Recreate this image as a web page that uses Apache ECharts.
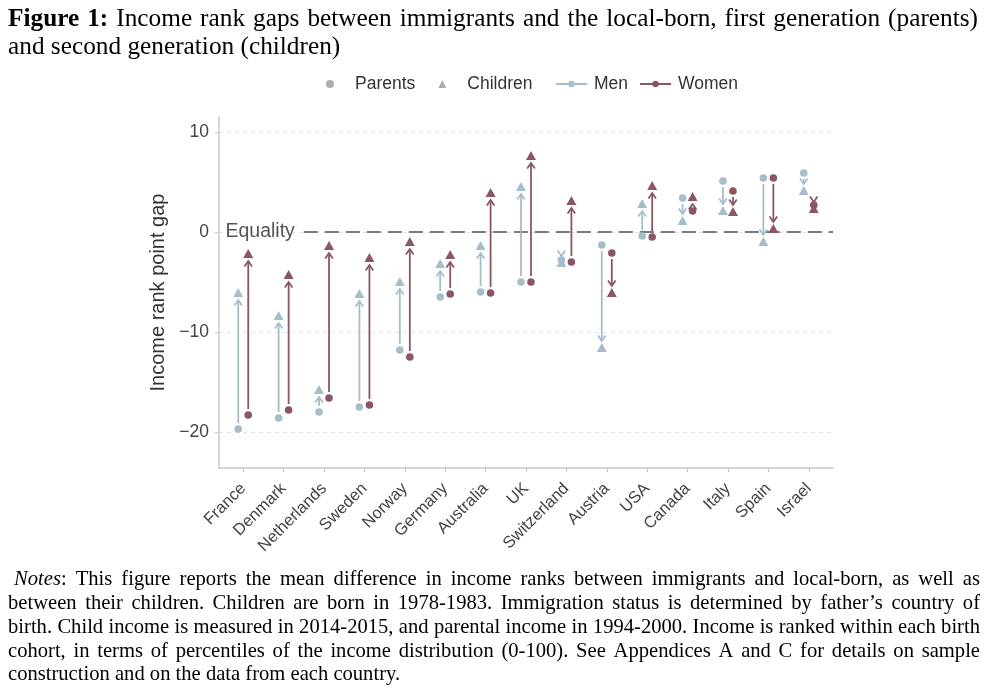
<!DOCTYPE html>
<html>
<head>
<meta charset="utf-8">
<script src="https://cdn.jsdelivr.net/npm/echarts@6/dist/echarts.min.js"></script>
<style>
html,body{margin:0;padding:0;background:#fff;}
#chart{width:1000px;height:692px;}
</style>
</head>
<body>
<div id="chart"></div>
<script>
const categories = ['France','Denmark','Netherlands','Sweden','Norway','Germany','Australia','UK','Switzerland','Austria','USA','Canada','Italy','Spain','Israel'];
const menParents    = [-19.7,-18.6,-18.0,-17.5,-11.8,-6.5,-6.0,-5.0,-2.8,-1.3,-0.4,3.4,5.1,5.4,5.9];
const menChildren   = [-6.1,-8.4,-15.8,-6.2,-5.0,-3.2,-1.4,4.5,-3.1,-11.6,2.8,1.1,2.1,-1.0,4.1];
const womenParents  = [-18.3,-17.8,-16.6,-17.3,-12.5,-6.2,-6.1,-5.0,-3.0,-2.1,-0.5,2.1,4.1,5.4,2.7];
const womenChildren = [-2.2,-4.3,-1.4,-2.6,-1.0,-2.3,3.9,7.6,3.1,-6.1,4.6,3.5,2.0,0.3,2.3];
const yTicks = [-20,-10,0,10];
const xTicks = categories.map((c,i)=>i);

const titleLines = [
  'Figure 1: Income rank gaps between immigrants and the local-born, first generation (parents)',
  'and second generation (children)'
];
const noteLines = [
  'Notes: This figure reports the mean difference in income ranks between immigrants and local-born, as well as',
  'between their children. Children are born in 1978-1983. Immigration status is determined by father\u2019s country of',
  'birth. Child income is measured in 2014-2015, and parental income in 1994-2000. Income is ranked within each birth',
  'cohort, in terms of percentiles of the income distribution (0-100). See Appendices A and C for details on sample',
  'construction and on the data from each country.'
];

const MEN = '#a6bdcc';
const WOMEN = '#8b5565';
const SANS = '"Liberation Sans", Arial, sans-serif';
const SERIF_NAME = 'Liberation Serif';
const SERIF = '"Liberation Serif", "Times New Roman", serif';

// ---- text justification helpers (layout only) ----
const mctx = document.createElement('canvas').getContext('2d');
function measure(t, size, weight, style) {
  mctx.font = (style || 'normal') + ' ' + (weight || 'normal') + ' ' + size + 'px "' + SERIF_NAME + '"';
  return mctx.measureText(t).width;
}
function justifiedRich(words, size, width, justify, richMap) {
  const total = words.reduce((s, w) => s + w.w, 0);
  const spaceW = measure(' ', size);
  let gap = justify ? (width - total) / (words.length - 1) : spaceW;
  if (gap < spaceW * 0.6) gap = spaceW * 0.6;
  const text = words.map(w => w.r).join('{sp| }');
  const rich = Object.assign({ sp: { width: gap, fontFamily: SERIF, fontSize: size, color: '#000' } }, richMap);
  return { text, rich };
}
function buildLine(line, size, width, justify, special) {
  const parts = line.split(/ +/);
  const words = parts.map((p, idx) => {
    if (idx === 0 && special && p.startsWith(special.word)) {
      const rest = p.slice(special.word.length);
      return { r: '{' + special.key + '|' + special.word + '}' + rest,
               w: measure(special.word, size, special.weight, special.style) + measure(rest, size) };
    }
    return { r: p, w: measure(p, size) };
  });
  return justifiedRich(words, size, width, justify, special ? { [special.key]: special.richStyle } : {});
}

const TITLE_SIZE = 25.3;
const NOTE_SIZE = 20.6;

const titles = [];
titleLines.forEach((t, k) => {
  let built;
  if (k === 0) {
    const parts = t.split(/ +/);
    const words = parts.map((p, idx) => {
      if (idx < 2) return { r: '{b|' + p + '}', w: measure(p, TITLE_SIZE, 'bold') };
      return { r: p, w: measure(p, TITLE_SIZE) };
    });
    built = justifiedRich(words, TITLE_SIZE, 970, true,
      { b: { fontFamily: SERIF, fontSize: TITLE_SIZE, fontWeight: 'bold', color: '#000' } });
  } else {
    built = buildLine(t, TITLE_SIZE, 970, false, null);
  }
  titles.push({
    text: built.text, left: 8, top: 7 + k * 28, padding: 0,
    textStyle: { fontFamily: SERIF, fontSize: TITLE_SIZE, fontWeight: 'normal', color: '#000', rich: built.rich }
  });
});
noteLines.forEach((t, k) => {
  const left = k === 0 ? 14 : 8;
  const special = k === 0 ? { word: 'Notes', key: 'i', style: 'italic',
    richStyle: { fontFamily: SERIF, fontSize: NOTE_SIZE, fontStyle: 'italic', color: '#000' } } : null;
  const built = buildLine(t, NOTE_SIZE, 980 - left, k < noteLines.length - 1, special);
  titles.push({
    text: built.text, left: left, top: 569.5 + k * 23.7, padding: 0,
    textStyle: { fontFamily: SERIF, fontSize: NOTE_SIZE, fontWeight: 'normal', color: '#000', rich: built.rich }
  });
});

function makeRender(offset, color) {
  return function (params, api) {
    const i = api.value(0), p = api.value(1), c = api.value(2);
    const P = api.coord([i, p]);
    const C = api.coord([i, c]);
    const x = P[0] + offset;
    const dir = C[1] > P[1] ? 1 : -1;
    const tipY = C[1] - dir * 7;
    let startY = P[1] + dir * 6;
    if ((tipY - startY) * dir < 0) startY = tipY;
    const lw = 1.8;
    return {
      type: 'group',
      children: [
        { type: 'line', shape: { x1: x, y1: startY, x2: x, y2: tipY },
          style: { stroke: color, lineWidth: lw } },
        { type: 'polyline', shape: { points: [[x - 3.8, tipY - dir * 5.5], [x, tipY], [x + 3.8, tipY - dir * 5.5]] },
          style: { stroke: color, lineWidth: lw, fill: null } },
        { type: 'circle', shape: { cx: x, cy: P[1], r: 3.8 }, style: { fill: color } },
        { type: 'polygon', shape: { points: [[x, C[1] - 5], [x - 5, C[1] + 4], [x + 5, C[1] + 4]] },
          style: { fill: color } }
      ]
    };
  };
}

const fmtNum = v => String(v).replace('-', '\u2212');

const option = {
  animation: false,
  backgroundColor: '#fff',
  title: titles,
  legend: [
    { data: ['Parents', 'Children'], left: 326, top: 75, padding: 0, itemWidth: 8, itemHeight: 8, itemGap: 23,
      textStyle: { fontFamily: SANS, fontSize: 17.5, color: '#333', padding: [0, 0, 0, 16] } },
    { data: ['Men', 'Women'], left: 555, top: 75, padding: 0, itemWidth: 31, itemHeight: 8, itemGap: 11,
      textStyle: { fontFamily: SANS, fontSize: 17.5, color: '#333', padding: [0, 0, 0, 2] } }
  ],
  grid: { left: 219, right: 167, top: 117, bottom: 224, containLabel: false },
  xAxis: {
    type: 'value', min: -0.6, max: 14.6,
    splitLine: { show: false },
    axisLine: { show: true, onZero: false, lineStyle: { color: '#c8c8c8', width: 1.5 } },
    axisTick: { show: true, customValues: xTicks, length: 4, lineStyle: { color: '#c8c8c8', width: 1.2 } },
    axisLabel: { customValues: xTicks, formatter: v => categories[Math.round(v)] || '',
      rotate: 45, margin: 18, padding: [12, 0, 0, 0], fontFamily: SANS, fontSize: 16.5, color: '#444' }
  },
  yAxis: {
    type: 'value', min: -23.6, max: 11.5,
    name: 'Income rank point gap', nameLocation: 'middle', nameGap: 48,
    nameTextStyle: { fontFamily: SANS, fontSize: 20, color: '#333' },
    splitLine: { show: false },
    axisLine: { show: true, onZero: false, lineStyle: { color: '#c8c8c8', width: 1.5 } },
    axisTick: { show: true, customValues: yTicks, length: 4, lineStyle: { color: '#c8c8c8', width: 1.2 } },
    axisLabel: { customValues: yTicks, formatter: fmtNum, margin: 10,
      fontFamily: SANS, fontSize: 17.5, color: '#444' }
  },
  series: [
    { type: 'scatter', name: 'Parents', data: [], symbol: 'circle', itemStyle: { color: '#999' } },
    { type: 'scatter', name: 'Children', data: [], symbol: 'triangle', itemStyle: { color: '#999' } },
    { type: 'line', name: 'Men', data: [], symbol: 'circle', symbolSize: 7, itemStyle: { color: MEN }, lineStyle: { color: MEN, width: 2 } },
    { type: 'line', name: 'Women', data: [], symbol: 'circle', symbolSize: 7, itemStyle: { color: WOMEN }, lineStyle: { color: WOMEN, width: 2 } },
    {
      type: 'scatter', name: 'grid', data: [], silent: true, z: 0,
      markLine: {
        silent: true, symbol: ['none', 'none'], label: { show: false },
        lineStyle: { color: '#e3e3e3', type: [4, 4], width: 1 },
        data: yTicks.map(v => ({ yAxis: v }))
      }
    },
    {
      type: 'scatter', name: 'equality', data: [], silent: true, z: 1,
      markLine: {
        silent: true, symbol: ['none', 'none'],
        lineStyle: { color: '#7a7a7a', type: [14, 7], width: 2 },
        label: { show: true, position: 'start', formatter: 'Equality', distance: 9,
          fontFamily: SANS, fontSize: 19.5, color: '#555' },
        data: [[{ coord: [1.5, 0] }, { coord: [14.6, 0] }]]
      }
    },
    {
      type: 'custom', name: 'menArrows', z: 5,
      renderItem: makeRender(-5, MEN),
      encode: { x: 0, y: [1, 2] },
      data: menParents.map((p, i) => [i, p, menChildren[i]])
    },
    {
      type: 'custom', name: 'womenArrows', z: 6,
      renderItem: makeRender(5, WOMEN),
      encode: { x: 0, y: [1, 2] },
      data: womenParents.map((p, i) => [i, p, womenChildren[i]])
    }
  ]
};

const chart = echarts.init(document.getElementById('chart'), null, { renderer: 'canvas' });
chart.setOption(option);
</script>
</body>
</html>
